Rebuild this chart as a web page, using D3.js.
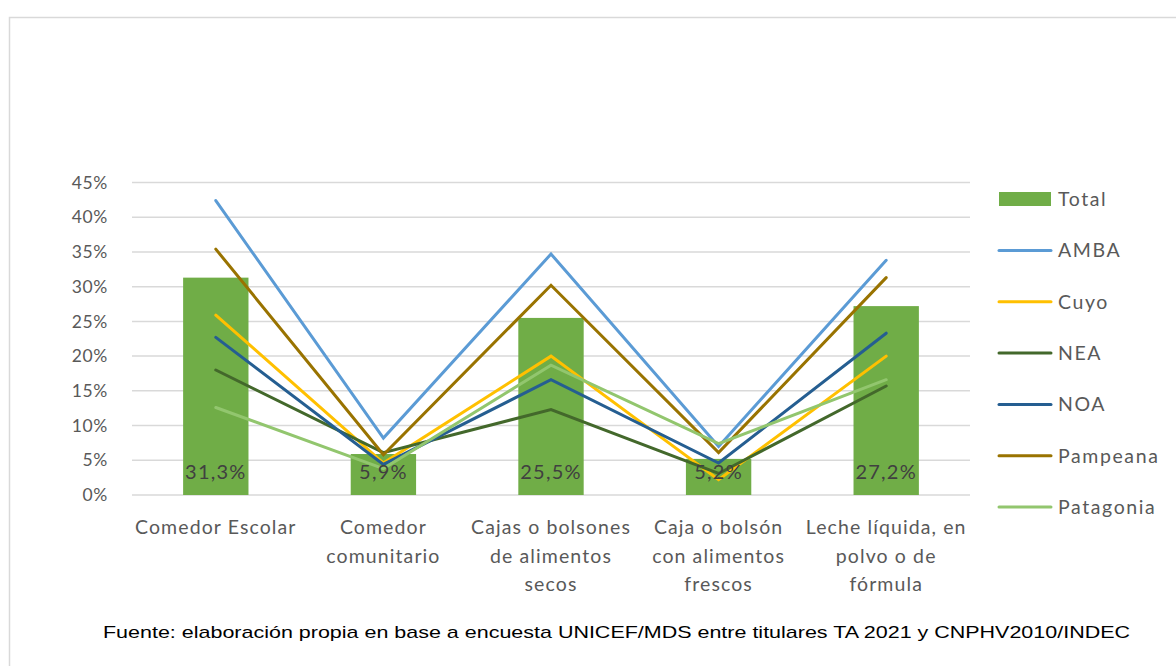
<!DOCTYPE html>
<html lang="es">
<head>
    <meta charset="UTF-8">
    <script src="https://d3js.org/d3.v7.min.js"></script>
    <style>
        body { margin: 0; background: #fff; }
        svg text { font-family: Lato, "Open Sans", sans-serif; }
    </style>
</head>
<body>
<script>
    // Datos
    var categorias = [
        ["Comedor Escolar"],
        ["Comedor", "comunitario"],
        ["Cajas o bolsones", "de alimentos", "secos"],
        ["Caja o bolsón", "con alimentos", "frescos"],
        ["Leche líquida, en", "polvo o de", "fórmula"]
    ];
    var total = [31.3, 5.9, 25.5, 5.2, 27.2];
    var totalEtiquetas = ["31,3%", "5,9%", "25,5%", "5,2%", "27,2%"];
    var regiones = ["AMBA", "Cuyo", "NEA", "NOA", "Pampeana", "Patagonia"];
    var amba      = [42.4, 8.2, 34.7, 7.0, 33.8];
    var cuyo      = [25.9, 4.6, 20.0, 2.2, 20.0];
    var nea       = [18.0, 6.1, 12.3, 3.1, 15.7];
    var noa       = [22.7, 4.4, 16.6, 4.6, 23.3];
    var pampeana  = [35.4, 5.8, 30.2, 6.1, 31.3];
    var patagonia = [12.6, 3.8, 18.7, 7.4, 16.6];
    var colores = ["#5B9BD5", "#FFC000", "#43682B", "#255E91", "#997300", "#92C66E"];
    var ticks = [0, 5, 10, 15, 20, 25, 30, 35, 40, 45];
    var fuente = "Fuente: elaboración propia en base a encuesta UNICEF/MDS entre titulares TA 2021 y CNPHV2010/INDEC";

    var series = [amba, cuyo, nea, noa, pampeana, patagonia];

    var width = 1176, height = 666;
    var svg = d3.select("body").append("svg")
        .attr("width", width).attr("height", height);

    // marco
    svg.append("rect")
        .attr("x", 9.5).attr("y", 17.5)
        .attr("width", 1180).attr("height", 700)
        .attr("fill", "none").attr("stroke", "#d9d9d9").attr("stroke-width", 1.5);

    var x = d3.scaleBand()
        .domain(d3.range(categorias.length))
        .range([132, 970])
        .paddingInner(0.61).paddingOuter(0.305);

    var xc = function (i) { return x(i) + x.bandwidth() / 2; };

    var y = d3.scaleLinear().domain([0, 45]).range([495, 182.5]);

    // grilla
    svg.append("g").selectAll("line")
        .data(ticks).join("line")
        .attr("x1", 132).attr("x2", 970)
        .attr("y1", d => y(d)).attr("y2", d => y(d))
        .attr("stroke", "#d9d9d9").attr("stroke-width", 1.5);

    // eje y
    svg.append("g").selectAll("text")
        .data(ticks).join("text")
        .attr("x", 108).attr("y", d => y(d))
        .attr("dy", "0.35em")
        .attr("text-anchor", "end")
        .attr("font-size", 17.5).attr("fill", "#595959")
        .attr("letter-spacing", 0.6)
        .text(d => d + "%");

    // barras
    svg.append("g").selectAll("rect")
        .data(total).join("rect")
        .attr("x", (d, i) => x(i)).attr("width", x.bandwidth())
        .attr("y", d => y(d)).attr("height", d => y(0) - y(d))
        .attr("fill", "#70AD47");

    // lineas
    var linea = d3.line().x((d, i) => xc(i)).y(d => y(d));
    svg.append("g").selectAll("path")
        .data(series).join("path")
        .attr("d", linea)
        .attr("fill", "none")
        .attr("stroke", (d, i) => colores[i])
        .attr("stroke-width", 3)
        .attr("stroke-linejoin", "miter")
        .attr("stroke-linecap", "round");

    // etiquetas de barras
    svg.append("g").selectAll("text")
        .data(totalEtiquetas).join("text")
        .attr("x", (d, i) => xc(i)).attr("y", 479)
        .attr("text-anchor", "middle")
        .attr("font-size", 20).attr("fill", "#404040")
        .attr("letter-spacing", 1.2)
        .text(d => d);

    // categorias
    var cat = svg.append("g").selectAll("text")
        .data(categorias).join("text")
        .attr("x", (d, i) => xc(i))
        .attr("text-anchor", "middle")
        .attr("font-size", 19.5).attr("fill", "#595959")
        .attr("letter-spacing", 1.1);
    cat.selectAll("tspan")
        .data(d => d).join("tspan")
        .attr("x", function () { return d3.select(this.parentNode).attr("x"); })
        .attr("y", (d, j) => 534 + j * 28.5)
        .text(d => d);

    // leyenda
    var leg = svg.append("g");
    leg.append("rect")
        .attr("x", 999).attr("y", 192).attr("width", 52).attr("height", 14)
        .attr("fill", "#70AD47");
    leg.append("text")
        .attr("x", 1058).attr("y", 199).attr("dy", "0.35em")
        .attr("font-size", 19.5).attr("fill", "#595959").attr("letter-spacing", 1.6)
        .text("Total");
    regiones.forEach(function (r, i) {
        var ly = 250.5 + i * 51.3;
        leg.append("line")
            .attr("x1", 999).attr("x2", 1051).attr("y1", ly).attr("y2", ly)
            .attr("stroke", colores[i]).attr("stroke-width", 3)
            .attr("stroke-linecap", "round");
        leg.append("text")
            .attr("x", 1058).attr("y", ly).attr("dy", "0.35em")
            .attr("font-size", 19.5).attr("fill", "#595959").attr("letter-spacing", 1.6)
            .text(r);
    });

    // fuente
    svg.append("text")
        .attr("x", 103).attr("y", 638)
        .style("font-family", "'Liberation Sans', Arial, sans-serif")
        .attr("font-size", 17).attr("fill", "#000")
        .attr("textLength", 1027).attr("lengthAdjust", "spacingAndGlyphs")
        .text(fuente);
</script>
</body>
</html>
